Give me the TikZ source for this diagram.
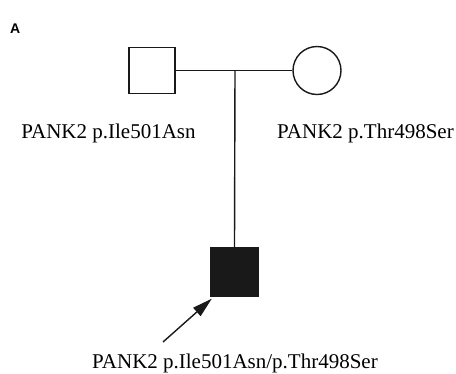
\documentclass[tikz,border=0pt]{standalone}
\usepackage{fontspec}
\setmainfont{Liberation Serif}
\newfontfamily\labelsans{Liberation Sans}
\usetikzlibrary{arrows.meta}
\begin{document}
\begin{tikzpicture}[x=1pt,y=-1pt,
  person/.style={draw=black!90, line width=1.4pt, minimum size=46pt, inner sep=0pt},
  link/.style={line width=1.4pt, draw=black!90},
  lbl/.style={font=\fontsize{21}{24}\selectfont, inner sep=0pt, anchor=base}]
\useasboundingbox (0,0) rectangle (456,373);
\node[anchor=base west, inner sep=0pt] (title) at (10,33) {\labelsans\bfseries\fontsize{14}{16}\selectfont A};
\node[person, rectangle] (father) at (152,70.5) {};
\node[person, circle, minimum size=48pt] (mother) at (317,70.5) {};
\node[person, rectangle, fill=black!90, minimum size=48pt] (child) at (234.5,272) {};
\coordinate (mid) at (235,70.5);
\draw[link] (father.east) -- (mother.west);
\draw[link] (mid) -- (child.north);
\coordinate (tail) at (163,342);
\draw[link, -{Triangle[length=20pt,width=11pt]}] (tail) -- ([shift={(2,2)}]child.south west);
\node[lbl] (lf) at (108.5,138) {PANK2 p.Ile501Asn};
\node[lbl] (lm) at (365.5,138) {PANK2 p.Thr498Ser};
\node[lbl] (lc) at (235,368) {PANK2 p.Ile501Asn/p.Thr498Ser};
\end{tikzpicture}
\end{document}
